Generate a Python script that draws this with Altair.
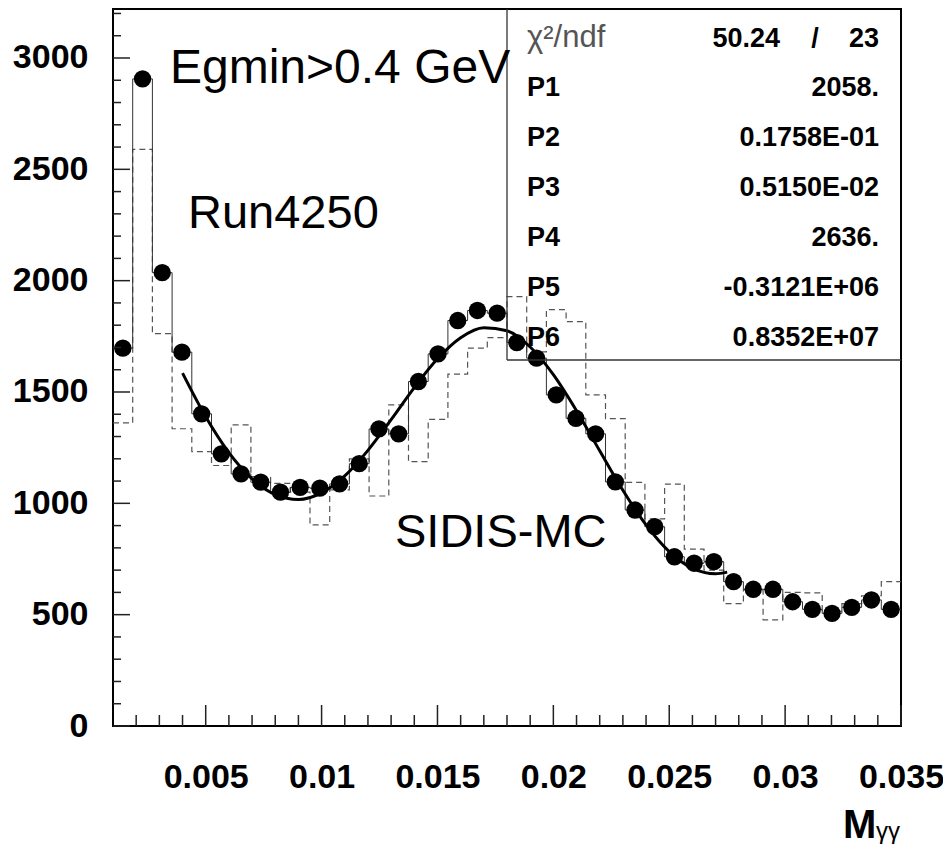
import altair as alt
import pandas as pd

# ---------------- data ----------------
x_min, x_max, n_bins = 0.001, 0.035, 40

data_counts = [1697, 2906, 2036, 1679, 1402, 1222, 1132, 1095, 1050, 1072,
               1068, 1087, 1178, 1334, 1312, 1547, 1671, 1821, 1866, 1854,
               1722, 1652, 1487, 1382, 1312, 1096, 970, 895, 760, 731,
               738, 648, 614, 614, 558, 524, 506, 533, 566, 524]

mc_counts = [1361, 2590, 1762, 1335, 1232, 1170, 1352, 1120, 1090, 1050,
             903, 1060, 1200, 1033, 1442, 1187, 1377, 1580, 1697, 1744,
             1928, 1680, 1870, 1816, 1487, 1380, 1094, 930, 1086, 794,
             700, 550, 611, 477, 600, 598, 515, 550, 585, 648]

fit_x = [0.004, 0.005, 0.006, 0.007, 0.008, 0.009, 0.010, 0.011, 0.012,
         0.013, 0.014, 0.015, 0.016, 0.017, 0.018, 0.019, 0.020, 0.021,
         0.022, 0.023, 0.024, 0.025, 0.026, 0.027, 0.0275]
fit_y = [1585, 1389, 1228, 1110, 1039, 1017, 1047, 1123, 1238, 1376, 1520,
         1649, 1744, 1789, 1775, 1702, 1578, 1416, 1236, 1059, 903, 783,
         708, 684, 691]

x_tick_labels = [0.005, 0.01, 0.015, 0.02, 0.025, 0.03, 0.035]
y_tick_labels = [0, 500, 1000, 1500, 2000, 2500, 3000]
x_minor_ticks = [0.002, 0.003, 0.004, 0.006, 0.007, 0.008, 0.009, 0.011, 0.012,
                 0.013, 0.014, 0.016, 0.017, 0.018, 0.019, 0.021, 0.022, 0.023,
                 0.024, 0.026, 0.027, 0.028, 0.029, 0.031, 0.032, 0.033, 0.034]
y_minor_ticks = [v for v in range(100, 3300, 100) if v % 500 != 0]

stat_names = ["P1", "P2", "P3", "P4", "P5", "P6"]
stat_values = ["2058.", "0.1758E-01", "0.5150E-02", "2636.", "-0.3121E+06", "0.8352E+07"]
chi2_value, ndf_value = "50.24", "23"

# ---------------- tables ----------------
bw = (x_max - x_min) / n_bins
edges = [x_min + i * bw for i in range(n_bins + 1)]
centers = [x_min + (i + 0.5) * bw for i in range(n_bins)]
step_df = pd.DataFrame({"x": edges,
                        "data": data_counts + [data_counts[-1]],
                        "mc": mc_counts + [mc_counts[-1]]})
pts_df = pd.DataFrame({"x": centers, "y": data_counts})
fit_df = pd.DataFrame({"x": fit_x, "y": fit_y})

W, H = 788, 717
ROOTF = "Liberation Sans, Arial, Helvetica, sans-serif"
TXTF = "Liberation Sans, Arial, sans-serif"

xs = alt.Scale(domain=[x_min, x_max], nice=False, zero=False)
ys = alt.Scale(domain=[0, 3220], nice=False, zero=False)
xaxis = alt.Axis(values=x_tick_labels, format="~g", title="", grid=False, domain=False,
                 ticks=False, tickSize=0, labelFont=ROOTF, labelFontSize=34,
                 labelFontWeight="bold", labelColor="black", labelPadding=61,
                 labelBaseline="alphabetic", labelFlush=False, labelOverlap=False)
yaxis = alt.Axis(values=y_tick_labels, format="d", title="", grid=False, domain=False,
                 ticks=False, tickSize=0, labelFont=ROOTF, labelFontSize=34,
                 labelFontWeight="bold", labelColor="black", labelPadding=25,
                 labelBaseline="middle", labelFlush=False, labelOverlap=False)

X = lambda f: alt.X(f, scale=xs, axis=xaxis)
Y = lambda f: alt.Y(f, scale=ys, axis=yaxis)

mc_line = alt.Chart(step_df).mark_line(interpolate="step-after", color="#555555",
                                       strokeWidth=1.2, strokeDash=[6, 4]).encode(
    x=X("x:Q"), y=Y("mc:Q"))
data_line = alt.Chart(step_df).mark_line(interpolate="step-after", color="#333333",
                                         strokeWidth=1).encode(
    x=X("x:Q"), y=Y("data:Q"))
fit_line = alt.Chart(fit_df).mark_line(interpolate="monotone", color="black",
                                       strokeWidth=3).encode(x=X("x:Q"), y=Y("y:Q"))
points = alt.Chart(pts_df).mark_circle(size=300, color="black", opacity=1).encode(
    x=X("x:Q"), y=Y("y:Q"))

def xticks(vals, length):
    return alt.Chart(pd.DataFrame({"v": vals})).mark_rule(color="#222", strokeWidth=1.5).encode(
        x=X("v:Q"), y=alt.value(H), y2=alt.value(H - length))

def yticks(vals, length):
    return alt.Chart(pd.DataFrame({"v": vals})).mark_rule(color="#222", strokeWidth=1.5).encode(
        y=Y("v:Q"), x=alt.value(0), x2=alt.value(length))

def label(text, x, y, size, weight="normal", align="left", font=TXTF, color="black"):
    return alt.Chart(pd.DataFrame({"t": [text]})).mark_text(
        align=align, baseline="alphabetic", font=font, fontSize=size,
        fontWeight=weight, color=color).encode(x=alt.value(x), y=alt.value(y), text="t:N")

def rule(x1, y1, x2, y2):
    return alt.Chart(pd.DataFrame({"a": [0]})).mark_rule(color="#333", strokeWidth=1.3).encode(
        x=alt.value(x1), x2=alt.value(x2), y=alt.value(y1), y2=alt.value(y2))

# stats box geometry (plot pixels)
bx, by = 394, 351
layers = [mc_line, data_line, points, fit_line,
          xticks(x_tick_labels, 21), xticks(x_minor_ticks, 11),
          yticks(y_tick_labels, 17), yticks(y_minor_ticks, 8),
          rule(bx, 0, bx, by), rule(bx, by, W, by),
          label("Egmin>0.4 GeV", 57, 74, 48),
          label("Run4250", 75, 219, 47),
          label("SIDIS-MC", 282, 538, 47),
          label("χ²/ndf", 414, 38, 31, font=ROOTF, color="#555555"),
          label(chi2_value, 667, 38, 27, weight="bold", align="right", font=ROOTF),
          label("/", 702, 38, 27, weight="bold", align="center", font=ROOTF),
          label(ndf_value, 766, 38, 27, weight="bold", align="right", font=ROOTF),
          label("M", 730, 829, 40, weight="bold", font=ROOTF),
          label("γγ", 763, 830, 24, font=ROOTF)]
for i, (n, v) in enumerate(zip(stat_names, stat_values)):
    yb = 87 + 50 * i
    layers.append(label(n, 414, yb, 27, weight="bold", font=ROOTF))
    layers.append(label(v, 766, yb, 27, weight="bold", align="right", font=ROOTF))

chart = alt.layer(*layers).properties(
    width=W, height=H,
    padding={"left": 105, "top": 1, "right": 42, "bottom": 120},
    autosize=alt.AutoSizeParams(type="none"),
    background="white",
).configure_view(stroke="black", strokeWidth=2)

chart.save("out.html", embed_options={"renderer": "svg", "actions": False})
